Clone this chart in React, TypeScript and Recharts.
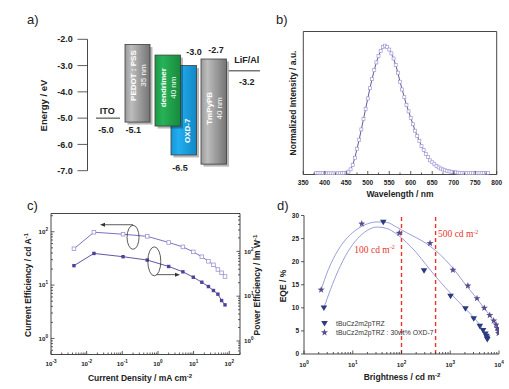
import React from "react"
import {
  ComposedChart,
  LineChart,
  Line,
  Scatter,
  XAxis,
  YAxis,
  ReferenceArea,
  ReferenceLine,
  ReferenceDot,
} from "recharts"

const FONT = '"Liberation Sans", Arial, Helvetica, sans-serif'
const SERIF = '"Liberation Serif", "Times New Roman", serif'
const INK = "#222"
const AXIS = { stroke: "#333", strokeWidth: 0.9 }
const RED = "#e8352b"

// ---- a) energy levels (eV) ----
const layerNames = ["PEDOT : PSS", "dendrimer", "OXD-7", "TmPyPB"]
const layerThickness = ["35 nm", "40 nm", "", "40 nm"]
const layerLumo = [-2.2, -2.6, -3.0, -2.75]
const layerHomo = [-5.15, -5.3, -6.4, -6.75]
const lumoLabels = ["-2.2", "", "-3.0", "-2.7"]
const homoLabels = ["-5.1", "", "-6.5", "-6.7"]
const electrodeNames = ["ITO", "LiF/Al"]
const electrodeLevels = [-5.0, -3.2]
const electrodeLabels = ["-5.0", "-3.2"]
const energyTicks = [-7, -6, -5, -4, -3, -2]

// ---- b) EL spectrum ----
const wavelength = [380, 385, 390, 395, 400, 405, 410, 415, 420, 425, 430, 435, 440, 445, 450, 455, 460, 465, 470, 475, 480, 485, 490, 495, 500, 505, 510, 515, 520, 525, 530, 535, 540, 545, 550, 555, 560, 565, 570, 575, 580, 585, 590, 595, 600, 605, 610, 615, 620, 625, 630, 635, 640, 645, 650, 655, 660, 665, 670, 675, 680, 685, 690, 695, 700, 705, 710, 715, 720, 725, 730, 735, 740, 745, 750, 755, 760, 765, 770, 775, 780]
const intensity = [
  0.012, 0.011, 0.01, 0.01, 0.009, 0.009, 0.009, 0.009, 0.009, 0.009, 0.009, 0.009, 0.01, 0.011,
  0.014, 0.022, 0.04, 0.075, 0.13, 0.2, 0.27, 0.35, 0.43, 0.51,
  0.59, 0.67, 0.74, 0.81, 0.87, 0.92, 0.96, 0.99, 1.0, 0.99,
  0.97, 0.94, 0.9, 0.85, 0.79, 0.72, 0.66, 0.6, 0.54, 0.49,
  0.44, 0.39, 0.34, 0.3, 0.26, 0.22, 0.19, 0.16, 0.135, 0.11,
  0.095, 0.08, 0.066, 0.055, 0.046, 0.039, 0.033, 0.028, 0.024, 0.021,
  0.018, 0.016, 0.014, 0.013, 0.012, 0.011, 0.01, 0.01, 0.01, 0.01,
  0.01, 0.01, 0.01, 0.011, 0.011, 0.012, 0.013,
]
const wlTicks = [350, 375, 400, 425, 450, 475, 500, 525, 550, 575, 600, 625, 650, 675, 700, 725, 750, 775, 800]

// ---- c) efficiencies vs current density ----
const currentDensity = [0.0044, 0.016, 0.105, 0.5, 2.0, 5.0, 9.8, 17, 26, 36, 48, 61, 76]
const currentEff = [48, 98, 90, 82, 63, 52, 42, 34, 28, 24, 19.6, 17, 14.5]
const powerEff = [48, 90, 76, 64, 46, 35, 26.5, 20.5, 16.4, 13.4, 11.1, 8.0, 6.4]

// ---- d) EQE vs brightness ----
const neatX = [2.56, 42.3, 290, 1015, 2050, 3030, 4040, 4710, 5250, 5500, 5690, 5760]
const neatY = [9.96, 28.5, 18.0, 12.5, 9.8, 7.6, 6.0, 5.05, 4.33, 3.83, 3.46, 3.1]
const mixX = [2.25, 15.3, 90, 385, 1135, 2300, 3540, 4990, 6460, 7790, 8700, 9230, 9680, 9800]
const mixY = [13.9, 28.2, 26.2, 24.0, 18.2, 14.8, 12.05, 9.96, 8.4, 7.2, 6.35, 5.6, 5.05, 4.5]
const neatFitX = [2.56, 3.5, 5, 8, 12.6, 20, 31.6, 50, 79, 126, 200, 316, 500, 794, 1260, 2000, 3160, 4500, 5200, 5760]
const neatFitY = [10.0, 14.0, 18.0, 22.2, 25.0, 26.8, 27.5, 27.2, 26.0, 24.2, 22.0, 19.4, 16.8, 14.4, 12.1, 9.9, 7.7, 5.6, 4.5, 3.2]
const mixFitX = [2.24, 3.16, 5, 7.9, 12.6, 20, 31.6, 50, 79, 126, 200, 316, 500, 794, 1260, 2000, 3160, 5000, 7080, 8900, 10000]
const mixFitY = [13.9, 18.3, 22.5, 25.3, 27.1, 28.2, 28.6, 28.5, 27.5, 26.3, 25.2, 24.0, 22.4, 20.4, 18.0, 15.2, 12.6, 9.9, 7.8, 6.2, 4.6]
const eqeTicks = [0, 5, 10, 15, 20, 25, 30]
const markLines = [100, 500]

// layout of the schematic (diagram units along a hidden x axis)
const layerSlots = [[1.5, 2.5], [2.7, 3.72], [3.34, 4.36], [4.54, 5.56]]
const layerFill = ["url(#gGray)", "url(#gGreen)", "url(#gBlue)", "url(#gGray)"]
const layerTextAt = [0.4, 0.46, 0.73, 0.47]
const drawOrder = [0, 2, 1, 3]
const electrodeSlots = [[0.34, 1.3], [5.65, 6.9]]
const lumoLabelX = [1.83, 0, 4.26, 5.14]
const lumoDy = [-8.6, 0, -13.6, -9.3]
const homoLabelX = [1.83, 0, 3.7, 5.14]
const homoDy = [8, 0, 12.7, 10.8]
const elNameX = [0.79, 6.37]
const elNameDy = [-7.3, -10.7]
const elValX = [0.74, 6.37]
const elValDy = [11.7, 11]

function logTicks(lo: number, hi: number) {
  const out: number[] = []
  for (let e = Math.floor(Math.log10(lo)); e <= Math.ceil(Math.log10(hi)); e++) {
    for (let d = 1; d <= 9; d++) {
      const v = Number((d * Math.pow(10, e)).toPrecision(3))
      if (v >= lo * 0.999 && v <= hi * 1.001) out.push(v)
    }
  }
  return out
}
const isDecade = (v: number) => Math.abs(Math.log10(v) - Math.round(Math.log10(v))) < 1e-6
const pow10 = (v: number) => (
  <>
    <tspan>10</tspan>
    <tspan dy={-3} fontSize={4.6}>{Math.round(Math.log10(v))}</tspan>
  </>
)

type TickCfg = {
  side: "left" | "right" | "bottom" | "top"
  major: (v: number) => boolean
  len?: number // + inward, - outward
  minor?: number
  label?: (v: number) => React.ReactNode
  off?: number
  size?: number
}

// ticks are drawn by hand so they can point inward like the original
function axisTick(c: TickCfg) {
  return function Tick(props: any) {
    const { x, y, payload } = props
    const v = payload.value
    const maj = c.major(v)
    const L = maj ? c.len ?? 3 : c.minor ?? 0
    const fs = c.size ?? 6.5
    const lab = maj && c.label ? c.label(v) : null
    const off = c.off ?? 4
    let x2 = x, y2 = y, tx = x, ty = y, anchor = "middle"
    if (c.side === "left") { x2 = x + L; tx = x - off; ty = y + fs * 0.35; anchor = "end" }
    else if (c.side === "right") { x2 = x - L; tx = x + off; ty = y + fs * 0.35; anchor = "start" }
    else if (c.side === "bottom") { y2 = y - L; ty = y + off }
    else { y2 = y + L }
    return (
      <g>
        {L !== 0 && <line x1={x} y1={y} x2={x2} y2={y2} stroke="#333" strokeWidth={0.8} />}
        {lab != null && (
          <text x={tx} y={ty} textAnchor={anchor} fontSize={fs} fontWeight="bold" fill={INK}>{lab}</text>
        )}
      </g>
    )
  }
}

function LayerBox(props: any) {
  const { x, y, width, height, idx } = props
  const cx = x + width / 2 + (idx === 2 ? 3 : 0)
  const cy = y + height * layerTextAt[idx]
  const sub = layerThickness[idx]
  return (
    <g>
      <rect x={x + 2.5} y={y + 2.5} width={width} height={height} fill="#000" opacity={0.28} />
      <rect x={x} y={y} width={width} height={height} fill={layerFill[idx]} stroke="#3c3c3c" strokeWidth={0.8} />
      <text transform={`translate(${cx},${cy}) rotate(-90)`} textAnchor="middle" fill="#fff" fontSize={8} fontWeight="bold">
        {sub ? (
          <>
            <tspan x={0} dy={-1.5}>{layerNames[idx]}</tspan>
            <tspan x={0} dy={9.5} fontWeight="normal">{sub}</tspan>
          </>
        ) : (
          <tspan x={0} dy={3}>{layerNames[idx]}</tspan>
        )}
      </text>
    </g>
  )
}

function EnergyPanel() {
  const labelPts = [
    ...layerNames.map((_, i) => ({ x: lumoLabelX[i], y: layerLumo[i], text: lumoLabels[i], dy: lumoDy[i] })),
    ...layerNames.map((_, i) => ({ x: homoLabelX[i], y: layerHomo[i], text: homoLabels[i], dy: homoDy[i] })),
    ...electrodeNames.map((n, i) => ({ x: elNameX[i], y: electrodeLevels[i], text: n, dy: elNameDy[i] })),
    ...electrodeNames.map((_, i) => ({ x: elValX[i], y: electrodeLevels[i], text: electrodeLabels[i], dy: elValDy[i] })),
  ].filter((p) => p.text)

  return (
    <ComposedChart width={509} height={389} margin={{ top: 39.3, right: 246.5, bottom: 218.3, left: 77.5 }}>
      <defs>
        <linearGradient id="gGray" x1="0" x2="1" y1="0" y2="0">
          <stop offset="0" stopColor="#9a9a9a" />
          <stop offset="0.25" stopColor="#bdbdbd" />
          <stop offset="1" stopColor="#747474" />
        </linearGradient>
        <linearGradient id="gGreen" x1="0" x2="1" y1="0" y2="0">
          <stop offset="0" stopColor="#1c9a45" />
          <stop offset="0.3" stopColor="#28b258" />
          <stop offset="1" stopColor="#178a3c" />
        </linearGradient>
        <linearGradient id="gBlue" x1="0" x2="1" y1="0" y2="0">
          <stop offset="0" stopColor="#1596d6" />
          <stop offset="0.3" stopColor="#22aef0" />
          <stop offset="1" stopColor="#1287c4" />
        </linearGradient>
      </defs>
      <XAxis type="number" dataKey="x" domain={[0, 7]} hide allowDataOverflow />
      <YAxis
        type="number"
        dataKey="y"
        domain={[-7, -2]}
        ticks={energyTicks}
        interval={0}
        width={10}
        allowDataOverflow
        tickSize={0}
        tickMargin={0}
        tickLine={false}
        axisLine={AXIS}
        tick={axisTick({ side: "left", major: () => true, len: -10, label: (v) => v.toFixed(1), off: 14.8, size: 9 })}
      />
      {drawOrder.map((i) => (
        <ReferenceArea
          key={layerNames[i]}
          x1={layerSlots[i][0]}
          x2={layerSlots[i][1]}
          y1={layerHomo[i]}
          y2={layerLumo[i]}
          ifOverflow="visible"
          shape={(p: any) => <LayerBox {...p} idx={i} />}
        />
      ))}
      {electrodeNames.map((n, i) => (
        <ReferenceLine
          key={n}
          segment={[
            { x: electrodeSlots[i][0], y: electrodeLevels[i] },
            { x: electrodeSlots[i][1], y: electrodeLevels[i] },
          ]}
          shape={(p: any) => <line x1={p.x1} y1={p.y1} x2={p.x2} y2={p.y2} stroke="#333" strokeWidth={1} />}
        />
      ))}
      <Scatter
        data={labelPts}
        isAnimationActive={false}
        shape={(p: any) => (
          <text x={p.cx} y={p.cy + p.payload.dy} dy={3.2} textAnchor="middle" fontSize={9} fontWeight="bold" fill={INK}>
            {p.payload.text}
          </text>
        )}
      />
    </ComposedChart>
  )
}

function SpectrumPanel() {
  const data = wavelength.map((nm, i) => ({ nm, v: intensity[i] }))
  const isMaj = (v: number) => v % 50 === 0
  return (
    <LineChart width={509} height={389} data={data} margin={{ top: 21.5, right: 2.3, bottom: 204.5, left: 293.3 }}>
      <XAxis
        dataKey="nm"
        type="number"
        domain={[350, 800]}
        ticks={wlTicks}
        interval={0}
        allowDataOverflow
        height={10}
        tickSize={0}
        tickMargin={0}
        tickLine={false}
        axisLine={AXIS}
        tick={axisTick({ side: "bottom", major: isMaj, len: 3.5, minor: 2, label: (v) => String(v), off: 10.5 })}
      />
      <XAxis
        xAxisId="top"
        orientation="top"
        type="number"
        domain={[350, 800]}
        ticks={wlTicks}
        interval={0}
        allowDataOverflow
        height={10}
        tickSize={0}
        tickMargin={0}
        tickLine={false}
        axisLine={AXIS}
        tick={axisTick({ side: "top", major: isMaj, len: 3.5, minor: 2 })}
      />
      <YAxis domain={[0, 1.11]} allowDataOverflow width={10} tick={false} tickLine={false} axisLine={AXIS} />
      <YAxis yAxisId="r" orientation="right" domain={[0, 1]} width={10} tick={false} tickLine={false} axisLine={AXIS} />
      <Line
        dataKey="v"
        stroke="#34346e"
        strokeWidth={0.8}
        isAnimationActive={false}
        dot={(p: any) => (
          <rect key={p.index} x={p.cx - 1.5} y={p.cy - 1.5} width={3} height={3} fill="#fff" stroke="#a297d8" strokeWidth={0.7} />
        )}
      />
    </LineChart>
  )
}

function Arrow(p: any) {
  const { x1, y1, x2, y2 } = p
  const a = Math.atan2(y2 - y1, x2 - x1)
  const bx = x2 - 5 * Math.cos(a)
  const by = y2 - 5 * Math.sin(a)
  const px = 2 * Math.sin(a)
  const py = 2 * Math.cos(a)
  return (
    <g>
      <line x1={x1} y1={y1} x2={bx} y2={by} stroke="#333" strokeWidth={0.8} />
      <polygon points={`${x2},${y2} ${bx - px},${by + py} ${bx + px},${by - py}`} fill="#333" />
    </g>
  )
}

function EfficiencyPanel() {
  const data = currentDensity.map((j, i) => ({ j, ce: currentEff[i], pe: powerEff[i] }))
  const xt = logTicks(0.001, 200)
  return (
    <LineChart width={509} height={389} data={data} margin={{ top: 203.5, right: 259, bottom: 24.5, left: 41 }}>
      <XAxis
        dataKey="j"
        type="number"
        scale="log"
        domain={[0.001, 200]}
        ticks={xt}
        interval={0}
        allowDataOverflow
        height={10}
        tickSize={0}
        tickMargin={0}
        tickLine={false}
        axisLine={AXIS}
        tick={axisTick({ side: "bottom", major: isDecade, len: 3.5, minor: 2, label: pow10, off: 11.5, size: 6.2 })}
      />
      <XAxis
        xAxisId="top"
        orientation="top"
        type="number"
        scale="log"
        domain={[0.001, 200]}
        ticks={xt}
        interval={0}
        allowDataOverflow
        height={10}
        tickSize={0}
        tickMargin={0}
        tickLine={false}
        axisLine={AXIS}
        tick={axisTick({ side: "top", major: isDecade, len: 3.5, minor: 2 })}
      />
      <YAxis
        yAxisId="ce"
        type="number"
        scale="log"
        domain={[0.5, 220]}
        ticks={logTicks(0.5, 220)}
        interval={0}
        allowDataOverflow
        width={10}
        tickSize={0}
        tickMargin={0}
        tickLine={false}
        axisLine={AXIS}
        tick={axisTick({ side: "left", major: isDecade, len: 3.5, minor: 2, label: pow10, off: 3, size: 6.2 })}
      />
      <YAxis
        yAxisId="pe"
        orientation="right"
        type="number"
        scale="log"
        domain={[0.5, 700]}
        ticks={logTicks(0.5, 700)}
        interval={0}
        allowDataOverflow
        width={10}
        tickSize={0}
        tickMargin={0}
        tickLine={false}
        axisLine={AXIS}
        tick={axisTick({ side: "right", major: isDecade, len: 3.5, minor: 2, label: pow10, off: 4, size: 6.2 })}
      />
      <Line
        yAxisId="ce"
        dataKey="ce"
        stroke="#6a62b8"
        strokeWidth={0.9}
        isAnimationActive={false}
        dot={(p: any) => (
          <rect key={p.index} x={p.cx - 1.8} y={p.cy - 1.8} width={3.6} height={3.6} fill="#fff" stroke="#9d95d3" strokeWidth={0.8} />
        )}
      />
      <Line
        yAxisId="pe"
        dataKey="pe"
        stroke="#4d4398"
        strokeWidth={0.9}
        isAnimationActive={false}
        dot={(p: any) => <rect key={p.index} x={p.cx - 1.7} y={p.cy - 1.7} width={3.4} height={3.4} fill="#4d4398" />}
      />
      <ReferenceDot
        yAxisId="ce"
        x={0.2}
        y={78.8}
        shape={(p: any) => <ellipse cx={p.cx} cy={p.cy} rx={6} ry={12} fill="none" stroke="#333" strokeWidth={0.8} />}
      />
      <ReferenceDot
        yAxisId="ce"
        x={0.79}
        y={27.9}
        shape={(p: any) => <ellipse cx={p.cx} cy={p.cy} rx={6.5} ry={14.5} fill="none" stroke="#333" strokeWidth={0.8} />}
      />
      <ReferenceLine yAxisId="ce" segment={[{ x: 0.2, y: 135.5 }, { x: 0.0237, y: 135.5 }]} shape={Arrow} />
      <ReferenceLine yAxisId="ce" segment={[{ x: 0.92, y: 15.7 }, { x: 4.15, y: 15.7 }]} shape={Arrow} />
    </LineChart>
  )
}

function TriDown(p: any) {
  const { cx, cy } = p
  return <polygon points={`${cx - 3.3},${cy - 2.6} ${cx + 3.3},${cy - 2.6} ${cx},${cy + 2.9}`} fill="#2c3b7e" />
}

function Star(p: any) {
  const { cx, cy } = p
  const pts: string[] = []
  for (let k = 0; k < 10; k++) {
    const r = k % 2 === 0 ? 3.7 : 1.5
    const a = -Math.PI / 2 + (k * Math.PI) / 5
    pts.push(`${cx + r * Math.cos(a)},${cy + r * Math.sin(a)}`)
  }
  return <polygon points={pts.join(" ")} fill="#574c8c" />
}

function EqePanel() {
  const neat = neatX.map((x, i) => ({ x, y: neatY[i] }))
  const mix = mixX.map((x, i) => ({ x, y: mixY[i] }))
  const neatFit = neatFitX.map((x, i) => ({ x, y: neatFitY[i] }))
  const mixFit = mixFitX.map((x, i) => ({ x, y: mixFitY[i] }))
  const none = () => <g />
  return (
    <ComposedChart width={509} height={389} margin={{ top: 215.5, right: 10, bottom: 25, left: 294 }}>
      <XAxis
        dataKey="x"
        type="number"
        scale="log"
        domain={[1, 10000]}
        ticks={logTicks(1, 10000)}
        interval={0}
        allowDataOverflow
        height={10}
        tickSize={0}
        tickMargin={0}
        tickLine={false}
        axisLine={AXIS}
        tick={axisTick({ side: "bottom", major: isDecade, len: 3.5, minor: 2, label: pow10, off: 12.5, size: 6.2 })}
      />
      <YAxis
        dataKey="y"
        type="number"
        domain={[0, 30]}
        ticks={eqeTicks}
        interval={0}
        allowDataOverflow
        width={10}
        tickSize={0}
        tickMargin={0}
        tickLine={false}
        axisLine={AXIS}
        tick={axisTick({ side: "left", major: () => true, len: -3, label: (v) => String(v), off: 5, size: 6.5 })}
      />
      {markLines.map((b) => (
        <Scatter
          key={b}
          data={[{ x: b, y: 0 }, { x: b, y: 30 }]}
          isAnimationActive={false}
          line={{ stroke: RED, strokeWidth: 1.4, strokeDasharray: "4 3" }}
          shape={none}
        />
      ))}
      <Scatter data={mixFit} isAnimationActive={false} line={{ stroke: "#8d93d2", strokeWidth: 0.9 }} lineJointType="monotoneX" shape={none} />
      <Scatter data={neatFit} isAnimationActive={false} line={{ stroke: "#8d93d2", strokeWidth: 0.9 }} lineJointType="monotoneX" shape={none} />
      <Scatter data={neat} isAnimationActive={false} shape={TriDown} />
      <Scatter data={mix} isAnimationActive={false} shape={Star} />
      <ReferenceDot
        x={72.6}
        y={21.9}
        shape={(p: any) => (
          <text x={p.cx} y={p.cy} textAnchor="end" fontFamily={SERIF} fontSize={9.5} fill={RED}>
            100 cd m<tspan dy={-3.5} fontSize={6}>-2</tspan>
          </text>
        )}
      />
      <ReferenceDot
        x={561}
        y={25.3}
        shape={(p: any) => (
          <text x={p.cx} y={p.cy} textAnchor="start" fontFamily={SERIF} fontSize={9.5} fill={RED}>
            500 cd m<tspan dy={-3.5} fontSize={6}>-2</tspan>
          </text>
        )}
      />
    </ComposedChart>
  )
}

function Sup({ children }: { children: React.ReactNode }) {
  return <tspan dy={-3} fontSize={6}>{children}</tspan>
}

function Overlay() {
  return (
    <svg width={509} height={389} style={{ position: "absolute", left: 0, top: 0, pointerEvents: "none" }} fontFamily={FONT}>
      <g fontSize={13} fill={INK}>
        <text x={27} y={24}>a)</text>
        <text x={276} y={24}>b)</text>
        <text x={27} y={210}>c)</text>
        <text x={277} y={210}>d)</text>
      </g>
      <g fontSize={8.5} fontWeight="bold" fill={INK} textAnchor="middle">
        <text transform="translate(47,105.5) rotate(-90)" fontSize={9.5}>Energy / eV</text>
        <text transform="translate(295.7,103) rotate(-90)">Normalized Intensity / a.u.</text>
        <text x={400} y={197}>Wavelength / nm</text>
        <text transform="translate(30.7,285) rotate(-90)">
          Current Efficiency / cd A<Sup>-1</Sup>
        </text>
        <text transform="translate(259.5,285) rotate(-90)">
          Power Efficiency / lm W<Sup>-1</Sup>
        </text>
        <text x={140} y={381.3}>
          Current Density / mA cm<Sup>-2</Sup>
        </text>
        <text transform="translate(286,286) rotate(-90)">EQE / %</text>
        <text x={402} y={380}>
          Brightness / cd m<Sup>-2</Sup>
        </text>
      </g>
      <g fontSize={6.8} fill="#333">
        <TriDown cx={324.5} cy={323.5} />
        <text x={336} y={326}>tBuCz2m2pTRZ</text>
        <Star cx={324.5} cy={332.5} />
        <text x={336} y={335}>tBuCz2m2pTRZ : 30wt% OXD-7</text>
      </g>
    </svg>
  )
}

const layer: React.CSSProperties = { position: "absolute", left: 0, top: 0 }

export default function App() {
  return (
    <div style={{ position: "absolute", left: 0, top: 0, width: 509, height: 389, background: "#fff", fontFamily: FONT, overflow: "hidden" }}>
      <div style={layer}><EnergyPanel /></div>
      <div style={layer}><SpectrumPanel /></div>
      <div style={layer}><EfficiencyPanel /></div>
      <div style={layer}><EqePanel /></div>
      <Overlay />
    </div>
  )
}
